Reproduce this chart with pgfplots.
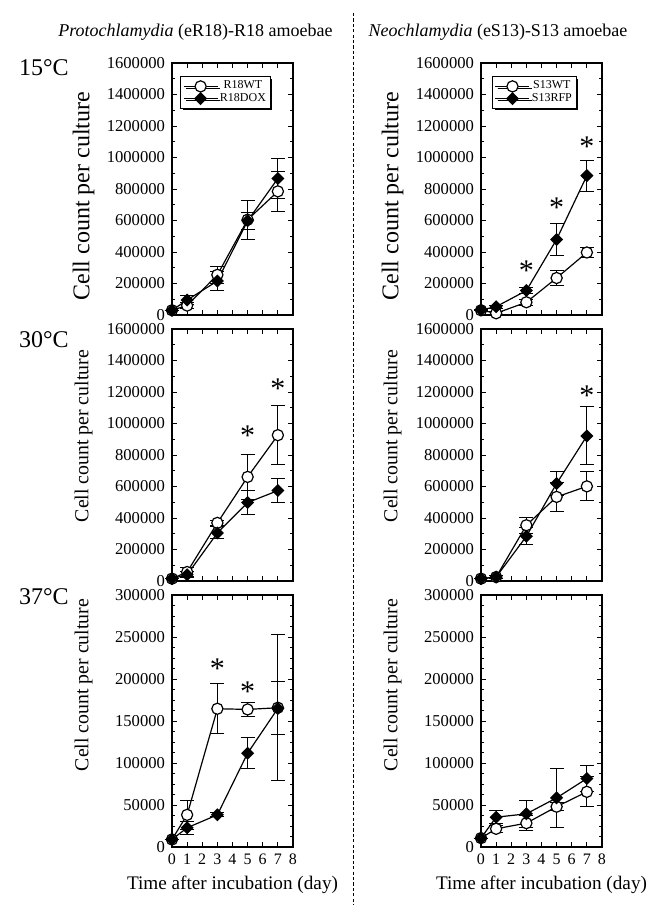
\documentclass[border=0pt]{standalone}
\usepackage{fontspec}
\setmainfont{Liberation Serif}
\usepackage{pgfplots}
\pgfplotsset{compat=1.18}
\usetikzlibrary{shadows}

\pgfplotsset{
  panel/.style={
    scale only axis, width=60.5pt, height=126pt, anchor=south west,
    xmin=0, xmax=8, xtick={0,...,8},
    tick align=inside, major tick length=2.5pt, minor tick length=1.4pt,
    axis line style={line width=0.75pt},
    major tick style={line width=0.5pt, black}, minor tick style={line width=0.5pt, black},
    clip=false, scaled y ticks=false,
    yticklabel style={/pgf/number format/.cd, fixed, precision=0, 1000 sep={}, assume math mode=true, /tikz/.cd, font=\fontsize{8.3}{9}\selectfont},
    xticklabel style={/pgf/number format/.cd, fixed, precision=0, assume math mode=true, /tikz/.cd, font=\fontsize{8}{9}\selectfont},
    legend image code/.code={\draw[mark repeat=2,mark phase=2,#1] plot coordinates {(0pt,0pt)(8.5pt,0pt)(17pt,0pt)};},
  },
  big/.style={ymin=0, ymax=1600000, ytick={0,200000,400000,600000,800000,1000000,1200000,1400000,1600000}, minor y tick num=1},
  small/.style={ymin=0, ymax=300000, ytick={0,50000,100000,150000,200000,250000,300000}, minor y tick num=3},
  noxl/.style={xticklabels={}},
  yl/.style={ylabel={Cell count per culture}, ylabel style={at={(axis description cs:-0.73,#1)}, anchor=center}},
  xl/.style={xlabel={Time after incubation (day)}, xlabel style={font=\fontsize{9.6}{10}\selectfont, at={(axis description cs:0.5,-0.151)}, anchor=center}},
  wt/.style={black, line width=0.6pt, mark=*, mark size=2.8pt, mark options={fill=white, line width=0.6pt},
    error bars/.cd, y dir=both, y explicit, error bar style={line width=0.5pt}, error mark options={rotate=90, mark size=3.5pt, line width=0.5pt}},
  dox/.style={black, line width=0.6pt, mark=square*, mark size=2pt, mark options={rotate=45, fill=black},
    error bars/.cd, y dir=both, y explicit, error bar style={line width=0.5pt}, error mark options={rotate=90, mark size=3.5pt, line width=0.5pt}},
  lg/.style={legend style={at={(axis description cs:#1,0.948)}, anchor=north west, draw=black, line width=0.6pt, fill=white,
    font=\fontsize{6}{6.5}\selectfont, inner sep=1.2pt, row sep=-1.2pt,
    drop shadow={shadow xshift=1.1pt, shadow yshift=-1.1pt, fill=black, opacity=1},
    nodes={inner sep=0.9pt}}},
}
\tikzset{ast/.style={font=\fontsize{15}{15}\selectfont, inner sep=0pt, yshift=-1.9pt}}

\begin{document}
\begin{tikzpicture}
\path[use as bounding box] (0,0) rectangle (327.5pt,-458.5pt);

% titles
\node[font=\fontsize{9}{10}\selectfont] at (97.75pt,-16pt) {\textit{Protochlamydia} (eR18)-R18 amoebae};
\node[font=\fontsize{9}{10}\selectfont] at (249pt,-16pt) {\textit{Neochlamydia} (eS13)-S13 amoebae};
\node[anchor=west, font=\fontsize{12}{13}\selectfont] at (6pt,-34pt) {15°C};
\node[anchor=west, font=\fontsize{12}{13}\selectfont] at (6pt,-170pt) {30°C};
\node[anchor=west, font=\fontsize{12}{13}\selectfont] at (6pt,-298.5pt) {37°C};
\draw[line width=0.5pt, dash pattern=on 1.6pt off 1.1pt] (176.5pt,-6.5pt) -- (176.5pt,-452.5pt);

% ---------- 15 C, R18 ----------
\begin{axis}[panel, big, noxl, yl=0.472, ylabel style={font=\fontsize{12}{13}\selectfont}, lg=0.066, at={(86pt,-157.5pt)}]
\addplot[wt] table[x=d,y=v,y error=e]{
d v e
0 30000 0
1 60000 20000
3 255000 56000
5 605000 125000
7 785000 125000
};
\addplot[dox] table[x=d,y=v,y error=e]{
d v e
0 30000 0
1 95000 28000
3 216000 58000
5 598000 54000
7 867000 125000
};
\legend{R18WT, R18DOX}
\end{axis}

% ---------- 15 C, S13 ----------
\begin{axis}[panel, big, noxl, yl=0.472, ylabel style={font=\fontsize{12}{13}\selectfont}, lg=0.09, at={(240.5pt,-157.5pt)}]
\addplot[wt] table[x=d,y=v,y error=e]{
d v e
0 30000 0
1 11000 10000
3 81000 20000
5 235000 45000
7 397000 32000
};
\addplot[dox] table[x=d,y=v,y error=e]{
d v e
0 32000 0
1 53000 10000
3 155000 21000
5 480000 100000
7 885000 98000
};
\legend{S13WT, S13RFP}
\node[ast] at (axis cs:3,305000) {*};
\node[ast] at (axis cs:5,705000) {*};
\node[ast] at (axis cs:7,1092000) {*};
\end{axis}

% ---------- 30 C, R18 ----------
\begin{axis}[panel, big, noxl, yl=0.575, ylabel style={font=\fontsize{9.9}{11}\selectfont}, at={(86pt,-290.5pt)}]
\addplot[wt] table[x=d,y=v,y error=e]{
d v e
0 15000 0
1 57000 30000
3 369000 15000
5 661000 145000
7 926000 187000
};
\addplot[dox] table[x=d,y=v,y error=e]{
d v e
0 15000 0
1 40000 20000
3 305000 38000
5 498000 76000
7 574000 76000
};
\node[ast] at (axis cs:5,948000) {*};
\node[ast] at (axis cs:7,1244000) {*};
\end{axis}

% ---------- 30 C, S13 ----------
\begin{axis}[panel, big, noxl, yl=0.575, ylabel style={font=\fontsize{9.9}{11}\selectfont}, at={(240.5pt,-290.5pt)}]
\addplot[wt] table[x=d,y=v,y error=e]{
d v e
0 15000 0
1 25000 10000
3 354000 50000
5 534000 91000
7 601000 92000
};
\addplot[dox] table[x=d,y=v,y error=e]{
d v e
0 15000 0
1 25000 8000
3 284000 55000
5 619000 78000
7 921000 184000
};
\node[ast] at (axis cs:7,1202000) {*};
\end{axis}

% ---------- 37 C, R18 ----------
\begin{axis}[panel, small, xl, yl=0.643, ylabel style={font=\fontsize{9.9}{11}\selectfont}, at={(86pt,-423.5pt)}]
\addplot[wt] table[x=d,y=v,y error=e]{
d v e
0 9000 0
1 38300 17000
3 164600 30000
5 163800 8000
7 165800 87000
};
\addplot[dox] table[x=d,y=v,y error=e]{
d v e
0 9000 0
1 22900 7500
3 38300 2500
5 111700 18700
7 165000 31500
};
\node[ast] at (axis cs:3,216700) {*};
\node[ast] at (axis cs:5,190000) {*};
\end{axis}

% ---------- 37 C, S13 ----------
\begin{axis}[panel, small, xl, yl=0.643, ylabel style={font=\fontsize{9.9}{11}\selectfont}, at={(240.5pt,-423.5pt)}]
\addplot[wt] table[x=d,y=v,y error=e]{
d v e
0 10600 0
1 21700 4000
3 28400 8700
5 48000 5000
7 65700 18000
};
\addplot[dox] table[x=d,y=v,y error=e]{
d v e
0 10600 0
1 35500 7900
3 39500 15800
5 58500 35000
7 81500 16000
};
\end{axis}
\end{tikzpicture}
\end{document}
